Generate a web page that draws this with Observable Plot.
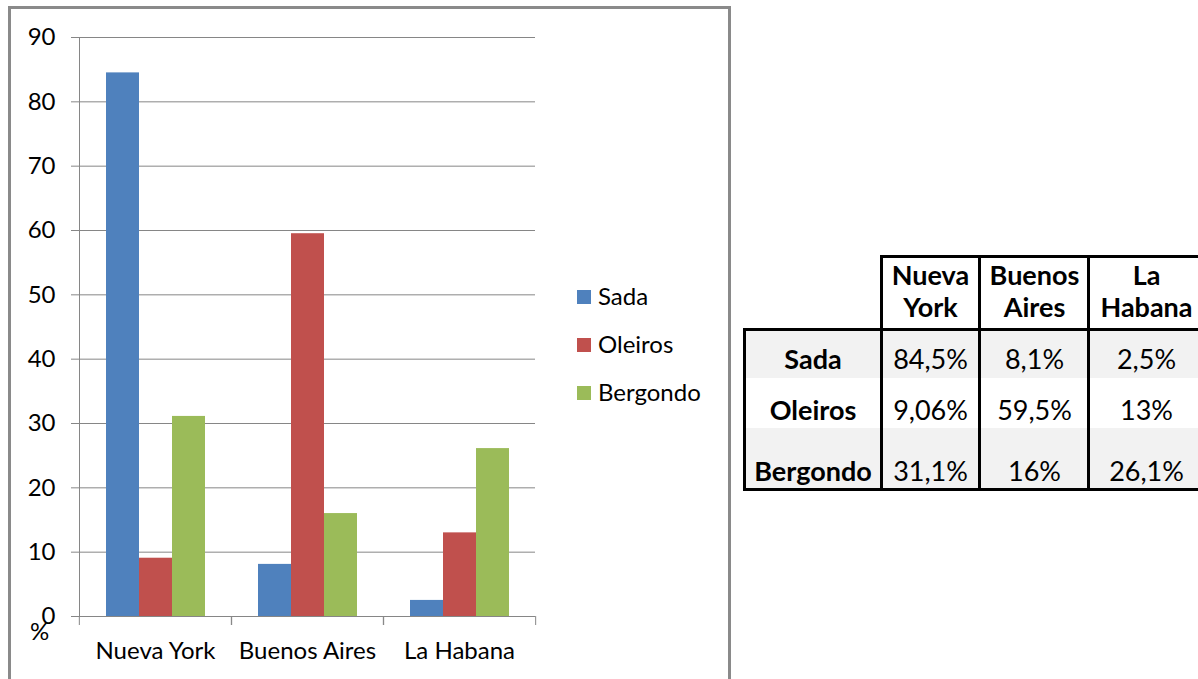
<!DOCTYPE html>
<html><head><meta charset="utf-8">
<script src="https://cdn.jsdelivr.net/npm/d3@7"></script>
<script src="https://cdn.jsdelivr.net/npm/@observablehq/plot@0.6"></script>
<style>
body{margin:0;background:#fff;width:1198px;height:679px;overflow:hidden;position:relative;font-family:Lato,sans-serif;color:#000;}
#box{position:absolute;left:8px;top:6px;width:717px;height:700px;border:3px solid #8a8a8a;}
#chart{position:absolute;left:0;top:0;}
.lg{position:absolute;font-size:24px;line-height:1.2;white-space:nowrap;}
.sw{position:absolute;width:14px;height:14px;}
.cell{position:absolute;text-align:center;white-space:nowrap;font-size:27px;line-height:1.2;}
.line{position:absolute;background:#000;}
.shade{position:absolute;background:#f2f2f2;}
</style></head><body>
<div id="box"></div>
<div id="chart"></div>
<div id="legend"></div>
<div id="pct" class="lg" style="left:30px;top:617px;">%</div>
<div id="table"></div>
<script>
const cities = ["Nueva York", "Buenos Aires", "La Habana"];
const series = ["Sada", "Oleiros", "Bergondo"];
const sada = [84.5, 8.1, 2.5];
const oleiros = [9.06, 59.5, 13];
const bergondo = [31.1, 16, 26.1];
const yTicks = [0, 10, 20, 30, 40, 50, 60, 70, 80, 90];
const colors = ["#4F81BD", "#C0504D", "#9BBB59"];

const valuesBySeries = [sada, oleiros, bergondo];
const data = series.flatMap((s, si) => cities.map((c, ci) => ({series: s, city: c, value: valuesBySeries[si][ci]})));

const W = 740, H = 679, mL = 78, mR = 205, mT = 37, mB = 63;
const step = (W - mL - mR) / cities.length;
const grid = "#868686";

const chart = Plot.plot({
  width: W, height: H,
  marginLeft: mL, marginRight: mR, marginTop: mT, marginBottom: mB,
  style: {fontFamily: "Lato, sans-serif", fontSize: "24px", color: "#000", background: "transparent", overflow: "visible"},
  fx: {domain: cities, paddingInner: 0, paddingOuter: 0, axis: null, label: null},
  x: {domain: series, paddingInner: 0, paddingOuter: 0.76, axis: null},
  y: {domain: [0, 90], axis: null},
  color: {domain: series, range: colors},
  marks: [
    Plot.gridY(yTicks, {stroke: grid, strokeOpacity: 1}),
    Plot.frame({anchor: "left", stroke: grid, facetAnchor: "left"}),
    Plot.axisY(yTicks, {anchor: "left", tickSize: 8, stroke: grid, tickPadding: 16, label: null, fill: "#000"}),
    Plot.barY(data, {fx: "city", x: "series", y: "value", fill: "series"}),
    Plot.axisFx({anchor: "bottom", tickSize: 0, tickPadding: 25, label: null, fill: "#000"}),
    Plot.axisFx({anchor: "bottom", tickSize: 9, stroke: grid, tickFormat: () => "", dx: -step / 2, label: null}),
    Plot.axisFx([cities[cities.length - 1]], {anchor: "bottom", tickSize: 9, stroke: grid, tickFormat: () => "", dx: step / 2, label: null})
  ]
});
document.getElementById("chart").appendChild(chart);

// legend
const legend = document.getElementById("legend");
const legTop = [297, 345, 393];
series.forEach((s, i) => {
  const sw = document.createElement("div");
  sw.className = "sw";
  sw.style.left = "577px"; sw.style.top = (legTop[i] - 7) + "px"; sw.style.background = colors[i];
  legend.appendChild(sw);
  const t = document.createElement("div");
  t.className = "lg";
  t.style.left = "598px"; t.style.top = (legTop[i] - 15) + "px";
  t.textContent = s;
  legend.appendChild(t);
});

// table
const tbl = document.getElementById("table");
function add(cls, styles, html) {
  const d = document.createElement("div");
  d.className = cls;
  Object.assign(d.style, styles);
  if (html != null) d.innerHTML = html;
  tbl.appendChild(d);
  return d;
}
const fmt = v => String(v).replace(".", ",") + "%";
const colL = [746, 883, 981, 1090];
const colW = [134, 95, 107, 113];
const rowBase = [370, 421, 482];
const fs = 27;
// shading
add("shade", {left: "746px", top: "331px", width: "470px", height: "47px"});
add("shade", {left: "746px", top: "428px", width: "470px", height: "60px"});
// borders
add("line", {left: "880px", top: "255px", width: "340px", height: "3px"});
add("line", {left: "743px", top: "328px", width: "470px", height: "3px"});
add("line", {left: "743px", top: "488px", width: "470px", height: "3px"});
add("line", {left: "743px", top: "328px", width: "3px", height: "163px"});
add("line", {left: "880px", top: "255px", width: "3px", height: "236px"});
add("line", {left: "978px", top: "255px", width: "3px", height: "236px"});
add("line", {left: "1087px", top: "255px", width: "3px", height: "236px"});
// header
cities.forEach((c, i) => {
  add("cell", {left: colL[i + 1] + "px", width: colW[i + 1] + "px", top: (288 - 0.987 * fs - 2) + "px", lineHeight: "32px", fontWeight: "700"}, c.replace(" ", "<br>"));
});
// body
series.forEach((s, r) => {
  const top = (rowBase[r] - 0.987 * fs) + "px";
  add("cell", {left: colL[0] + "px", width: colW[0] + "px", top, fontWeight: "700"}, s);
  valuesBySeries[r].forEach((v, ci) => {
    add("cell", {left: colL[ci + 1] + "px", width: colW[ci + 1] + "px", top}, fmt(v));
  });
});
</script>
</body></html>
